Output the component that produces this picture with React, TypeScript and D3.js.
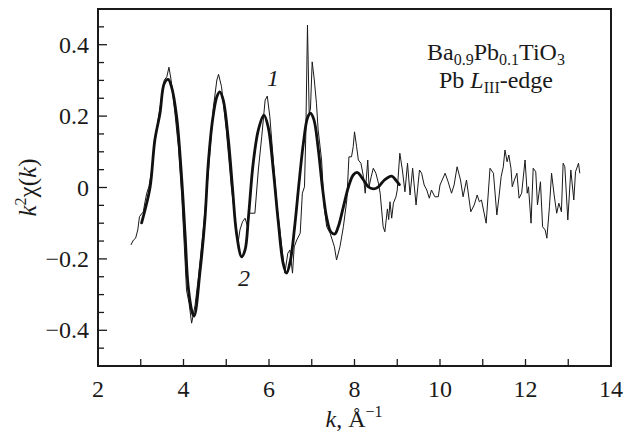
import React from "react";
import * as d3 from "d3";

const thinK = [2.77,2.83,2.88,2.93,2.97,3.02,3.06,3.10,3.14,3.19,3.26,3.32,3.37,3.43,3.49,3.55,3.61,3.66,3.71,3.80,3.88,3.96,4.02,4.07,4.13,4.19,4.23,4.27,4.35,4.46,4.58,4.70,4.78,4.82,4.89,5.00,5.12,5.24,5.28,5.32,5.38,5.44,5.50,5.54,5.67,5.75,5.83,5.91,5.96,6.02,6.10,6.19,6.30,6.37,6.44,6.49,6.55,6.59,6.65,6.73,6.78,6.83,6.86,6.90,6.94,6.97,7.01,7.06,7.11,7.15,7.23,7.29,7.35,7.43,7.53,7.58,7.66,7.74,7.82,7.87,7.93,7.97,8.00,8.05,8.09,8.15,8.21,8.25,8.31,8.34,8.39,8.44,8.50,8.56,8.60,8.67,8.71,8.77,8.80,8.83,8.87,8.91,8.97,9.00,9.06,9.12,9.18,9.24,9.30,9.36,9.44,9.52,9.57,9.63,9.69,9.75,9.80,9.88,9.96,10.00,10.12,10.19,10.27,10.33,10.40,10.48,10.54,10.62,10.72,10.80,10.87,10.92,10.97,11.08,11.17,11.25,11.33,11.38,11.43,11.48,11.52,11.57,11.61,11.66,11.69,11.74,11.80,11.85,11.91,11.99,12.04,12.07,12.13,12.18,12.24,12.28,12.35,12.40,12.46,12.50,12.56,12.61,12.67,12.73,12.78,12.84,12.88,12.92,12.99,13.06,13.13,13.17,13.24,13.27];
const thinV = [-0.161,-0.147,-0.142,-0.119,-0.082,-0.074,-0.068,-0.040,-0.016,0.002,0.049,0.133,0.161,0.208,0.254,0.301,0.31,0.337,0.301,0.208,0.114,-0.026,-0.166,-0.287,-0.324,-0.38,-0.355,-0.33,-0.25,-0.119,0.04,0.226,0.301,0.317,0.282,0.161,0.0,-0.12,-0.152,-0.119,-0.096,-0.086,-0.11,-0.072,-0.072,0.049,0.142,0.245,0.256,0.198,0.077,-0.054,-0.166,-0.24,-0.184,-0.175,-0.24,-0.166,-0.147,-0.128,-0.016,0.002,0.142,0.455,0.208,0.22,0.352,0.301,0.236,0.161,0.077,-0.054,-0.11,-0.128,-0.166,-0.203,-0.166,-0.11,-0.035,0.086,0.086,0.114,0.156,0.114,0.077,0.068,0.03,-0.016,0.077,0.002,0.03,0.054,0.04,0.012,-0.016,-0.11,-0.124,-0.06,-0.09,-0.04,-0.086,-0.044,-0.026,-0.007,0.096,0.049,-0.012,0.068,-0.021,0.054,-0.049,0.049,0.04,0.007,-0.007,-0.030,-0.007,-0.026,-0.026,0.007,0.04,0.016,-0.016,0.007,0.058,0.021,-0.026,0.021,-0.068,-0.049,-0.021,-0.04,-0.035,-0.10,0.054,0.04,-0.077,-0.026,0.03,0.058,0.105,0.072,0.091,0.054,0.002,0.021,0.04,-0.03,-0.016,0.077,-0.016,0.002,-0.10,0.054,0.044,-0.049,0.016,-0.11,-0.119,-0.142,-0.054,0.04,-0.021,-0.072,-0.044,-0.068,0.068,0.058,-0.091,0.049,-0.035,0.044,0.068,0.04];

const fitK = [3.02,3.10,3.22,3.33,3.45,3.55,3.64,3.72,3.84,3.96,4.04,4.11,4.21,4.25,4.39,4.50,4.58,4.68,4.78,4.85,4.93,5.05,5.15,5.24,5.36,5.44,5.52,5.63,5.75,5.88,5.98,6.10,6.22,6.33,6.41,6.50,6.60,6.70,6.80,6.90,6.97,7.05,7.15,7.25,7.35,7.45,7.54,7.62,7.74,7.86,7.97,8.07,8.21,8.32,8.44,8.56,8.70,8.87,8.97,9.05];
const fitV = [-0.099,-0.063,0.002,0.133,0.208,0.292,0.303,0.282,0.198,0.021,-0.138,-0.278,-0.352,-0.36,-0.231,-0.091,0.068,0.189,0.254,0.268,0.245,0.133,-0.007,-0.128,-0.194,-0.175,-0.082,0.068,0.161,0.203,0.170,0.049,-0.10,-0.212,-0.24,-0.205,-0.11,0.01,0.12,0.195,0.208,0.19,0.11,0.0,-0.085,-0.125,-0.13,-0.11,-0.054,0.002,0.035,0.042,0.021,0.002,-0.004,0.002,0.021,0.032,0.02,0.008];

const xTicks = [2,3,4,5,6,7,8,9,10,11,12,13,14];
const xLabels = [2,4,6,8,10,12,14];
const yTicks = [-0.45,-0.4,-0.35,-0.3,-0.25,-0.2,-0.15,-0.1,-0.05,0,0.05,0.1,0.15,0.2,0.25,0.3,0.35,0.4,0.45];
const yLabels = [-0.4,-0.2,0,0.2,0.4];

const W = 627, H = 433;
const L = 98, R = 611, T = 9, B = 366;
const FONT = "Liberation Serif, Times New Roman, Times, serif";
const INK = "#1a1a1a";

export default function App() {
  const x = d3.scaleLinear().domain([2, 14]).range([L, R]);
  const y = d3.scaleLinear().domain([-0.5, 0.5]).range([B, T]);
  const thinLine = d3.line<number>().x((d, i) => x(thinK[i])).y((d) => y(d)).curve(d3.curveLinear);
  const fitLine = d3.line<number>().x((d, i) => x(fitK[i])).y((d) => y(d)).curve(d3.curveCatmullRom.alpha(0.5));
  const fmt = (v: number) => (v < 0 ? "\u2212" : "") + (v === 0 ? "0" : Math.abs(v).toFixed(1));
  const isMajorY = (v: number) => yLabels.some((l) => Math.abs(l - v) < 1e-9);
  const ts: React.CSSProperties = { fontFamily: FONT };

  return (
    <div style={{ position: "fixed", left: 0, top: 0, width: W, height: H, background: "#fff" }}>
      <svg width={W} height={H} style={{ display: "block", fontFamily: FONT }}>
        <rect x={0} y={0} width={W} height={H} fill="#fff" />
        <path d={thinLine(thinV) || ""} fill="none" stroke={INK} strokeWidth={1} strokeLinejoin="round" />
        <path d={fitLine(fitV) || ""} fill="none" stroke="#111" strokeWidth={2.8} strokeLinejoin="round" strokeLinecap="round" />
        <rect x={L} y={T} width={R - L} height={B - T} fill="none" stroke={INK} strokeWidth={2} />
        {xTicks.map((t) => (
          <line key={"xt" + t} x1={x(t)} x2={x(t)} y1={B} y2={B - 7} stroke={INK} strokeWidth={1.3} />
        ))}
        {yTicks.map((t) => (
          <line key={"yt" + t} x1={L} x2={L + (isMajorY(t) ? 9 : 6)} y1={y(t)} y2={y(t)} stroke={INK} strokeWidth={1.3} />
        ))}
        {xLabels.map((t) => (
          <text key={"xl" + t} style={ts} x={x(t)} y={397} fontSize={24} textAnchor="middle" fill={INK}>{t}</text>
        ))}
        {yLabels.map((t) => (
          <text key={"yl" + t} style={ts} x={89} y={y(t) + 8} fontSize={24} textAnchor="end" fill={INK}>{fmt(t)}</text>
        ))}
        <text style={ts} x={354} y={427} fontSize={24} textAnchor="middle" fill={INK}>
          <tspan fontStyle="italic">k</tspan>, Å<tspan fontSize={16} dy={-10}>−1</tspan>
        </text>
        <text style={ts} transform={`translate(36, ${(T + B) / 2}) rotate(-90)`} fontSize={25} textAnchor="middle" fill={INK}>
          <tspan fontStyle="italic">k</tspan><tspan fontSize={16} dy={-10}>2</tspan><tspan dy={10}>χ(</tspan><tspan fontStyle="italic">k</tspan>)
        </text>
        <text style={ts} x={496} y={60} fontSize={24} textAnchor="middle" fill={INK}>
          Ba<tspan fontSize={16} dy={5}>0.9</tspan><tspan dy={-5}>Pb</tspan><tspan fontSize={16} dy={5}>0.1</tspan><tspan dy={-5}>TiO</tspan><tspan fontSize={16} dy={5}>3</tspan>
        </text>
        <text style={ts} x={496} y={88} fontSize={24} textAnchor="middle" fill={INK}>
          Pb <tspan fontStyle="italic">L</tspan><tspan fontSize={16} dy={5}>III</tspan><tspan dy={-5}>-edge</tspan>
        </text>
        <text style={ts} x={273} y={86} fontSize={24} fontStyle="italic" textAnchor="middle" fill={INK}>1</text>
        <text style={ts} x={244} y={286} fontSize={24} fontStyle="italic" textAnchor="middle" fill={INK}>2</text>
      </svg>
    </div>
  );
}
